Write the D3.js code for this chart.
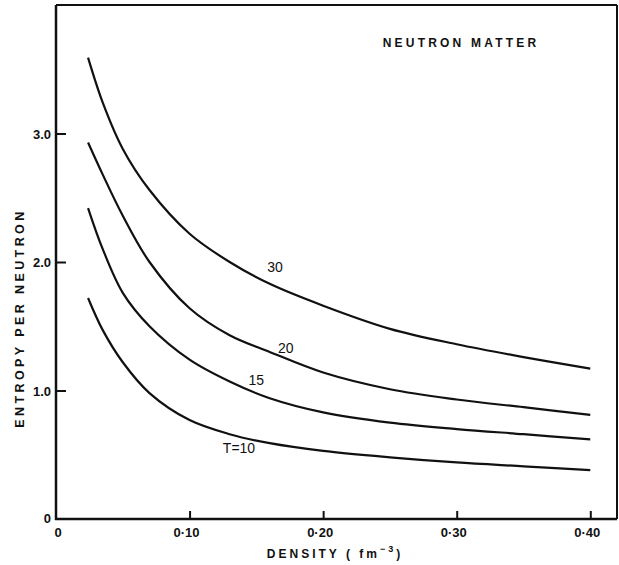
<!DOCTYPE html>
<html>
<head>
<meta charset="utf-8">
<script src="https://cdn.jsdelivr.net/npm/d3@7"></script>
<style>
  body { margin: 0; background: #fff; }
  text { font-family: "Liberation Sans", Arial, sans-serif; fill: #111; }
</style>
</head>
<body>
<svg id="chart" width="619" height="565"></svg>
<script>
  const density = [0.024, 0.035, 0.05, 0.07, 0.10, 0.13, 0.16, 0.20, 0.25, 0.30, 0.35, 0.40];

  // entropy per neutron for each temperature
  const t30 = [3.59, 3.24, 2.88, 2.56, 2.22, 2.00, 1.83, 1.66, 1.48, 1.36, 1.26, 1.17];
  const t20 = [2.93, 2.68, 2.36, 2.00, 1.64, 1.43, 1.30, 1.14, 1.01, 0.93, 0.87, 0.81];
  const t15 = [2.42, 2.10, 1.76, 1.50, 1.24, 1.07, 0.94, 0.83, 0.75, 0.70, 0.66, 0.62];
  const t10 = [1.72, 1.47, 1.22, 0.98, 0.77, 0.66, 0.59, 0.53, 0.48, 0.44, 0.41, 0.38];

  const curveNames = ["30", "20", "15", "T=10"];
  // label anchor (density, entropy) for each curve
  const labelDensity = [0.164, 0.172, 0.150, 0.137];
  const labelEntropy = [1.92, 1.29, 1.04, 0.51];

  const xTicks = [0.10, 0.20, 0.30, 0.40];
  const xTickLabels = ["0·10", "0·20", "0·30", "0·40"];
  const yTicks = [1.0, 2.0, 3.0];
  const yTickLabels = ["1.0", "2.0", "3.0"];

  const svg = d3.select("#chart");
  const margin = {left: 56, top: 5, right: 2, bottom: 46};
  const width = +svg.attr("width");
  const height = +svg.attr("height");

  const x = d3.scaleLinear()
    .domain([0, 0.42])
    .range([margin.left, width - margin.right]);
  const y = d3.scaleLinear()
    .domain([0, 4.0])
    .range([height - margin.bottom, margin.top]);

  const x0 = x(0), y0 = y(0);
  const xr = x.range()[1], yt = y.range()[1];

  // frame: top & right a bit lighter than the axes
  svg.append("line").attr("x1", x0).attr("x2", xr).attr("y1", yt).attr("y2", yt)
    .attr("stroke", "#111").attr("stroke-width", 2);
  svg.append("line").attr("x1", xr).attr("x2", xr).attr("y1", yt).attr("y2", y0)
    .attr("stroke", "#111").attr("stroke-width", 2);

  // x axis with inward ticks
  const xAxis = svg.append("g")
    .attr("transform", "translate(0," + y0 + ")")
    .call(d3.axisTop(x).tickValues(xTicks).tickSize(8).tickFormat(""));
  xAxis.select(".domain").remove();
  xAxis.selectAll("line").attr("stroke", "#111").attr("stroke-width", 2);

  svg.append("line").attr("x1", x0 - 1).attr("x2", xr).attr("y1", y0).attr("y2", y0)
    .attr("stroke", "#111").attr("stroke-width", 2.5);

  svg.selectAll("text.xtick")
    .data(xTicks)
    .enter()
    .append("text")
      .attr("class", "xtick")
      .attr("x", d => x(d) - 3)
      .attr("y", y0 + 18)
      .attr("text-anchor", "middle")
      .style("font-size", "13px")
      .style("font-weight", "bold")
      .text((d, i) => xTickLabels[i]);

  svg.append("text")
    .attr("x", x0 + 2).attr("y", y0 + 18)
    .attr("text-anchor", "middle")
    .style("font-size", "13px").style("font-weight", "bold")
    .text("0");

  // y axis with inward ticks
  const yAxis = svg.append("g")
    .attr("transform", "translate(" + x0 + ",0)")
    .call(d3.axisRight(y).tickValues(yTicks).tickSize(10).tickFormat(""));
  yAxis.select(".domain").remove();
  yAxis.selectAll("line").attr("stroke", "#111").attr("stroke-width", 2);

  svg.append("line").attr("x1", x0).attr("x2", x0).attr("y1", yt).attr("y2", y0 + 1)
    .attr("stroke", "#111").attr("stroke-width", 2.5);

  svg.selectAll("text.ytick")
    .data(yTicks)
    .enter()
    .append("text")
      .attr("class", "ytick")
      .attr("x", x0 - 5)
      .attr("y", d => y(d) + 5)
      .attr("text-anchor", "end")
      .style("font-size", "13px")
      .style("font-weight", "bold")
      .text((d, i) => yTickLabels[i]);

  svg.append("text")
    .attr("x", x0 - 5).attr("y", y0 + 4)
    .attr("text-anchor", "end")
    .style("font-size", "13px").style("font-weight", "bold")
    .text("0");

  // curves
  const line = d3.line()
    .x(d => x(d[0]))
    .y(d => y(d[1]))
    .curve(d3.curveCatmullRom.alpha(0.5));

  [t30, t20, t15, t10].forEach(function(vals) {
    svg.append("path")
      .datum(density.map((dd, i) => [dd, vals[i]]))
      .attr("d", line)
      .attr("fill", "none")
      .attr("stroke", "#111")
      .attr("stroke-width", 2.2);
  });

  svg.selectAll("text.curve")
    .data(curveNames)
    .enter()
    .append("text")
      .attr("class", "curve")
      .attr("x", (d, i) => x(labelDensity[i]))
      .attr("y", (d, i) => y(labelEntropy[i]))
      .attr("text-anchor", "middle")
      .style("font-size", "14px")
      .text(d => d);

  // titles
  svg.append("text")
    .attr("x", 461).attr("y", 47)
    .attr("text-anchor", "middle")
    .style("font-size", "12px")
    .style("font-weight", "bold")
    .style("letter-spacing", "3.2px")
    .text("NEUTRON MATTER");

  const xl = svg.append("text")
    .attr("x", 335).attr("y", 558)
    .attr("text-anchor", "middle")
    .style("font-size", "12px")
    .style("font-weight", "bold")
    .style("letter-spacing", "3px");
  xl.append("tspan").text("DENSITY ( fm");
  xl.append("tspan").attr("dy", -6).style("font-size", "9px").text("−3");
  xl.append("tspan").attr("dy", 6).text(")");

  svg.append("text")
    .attr("transform", "translate(24,318) rotate(-90)")
    .attr("text-anchor", "middle")
    .style("font-size", "12.5px")
    .style("font-weight", "bold")
    .style("letter-spacing", "3.4px")
    .text("ENTROPY PER NEUTRON");
</script>
</body>
</html>
